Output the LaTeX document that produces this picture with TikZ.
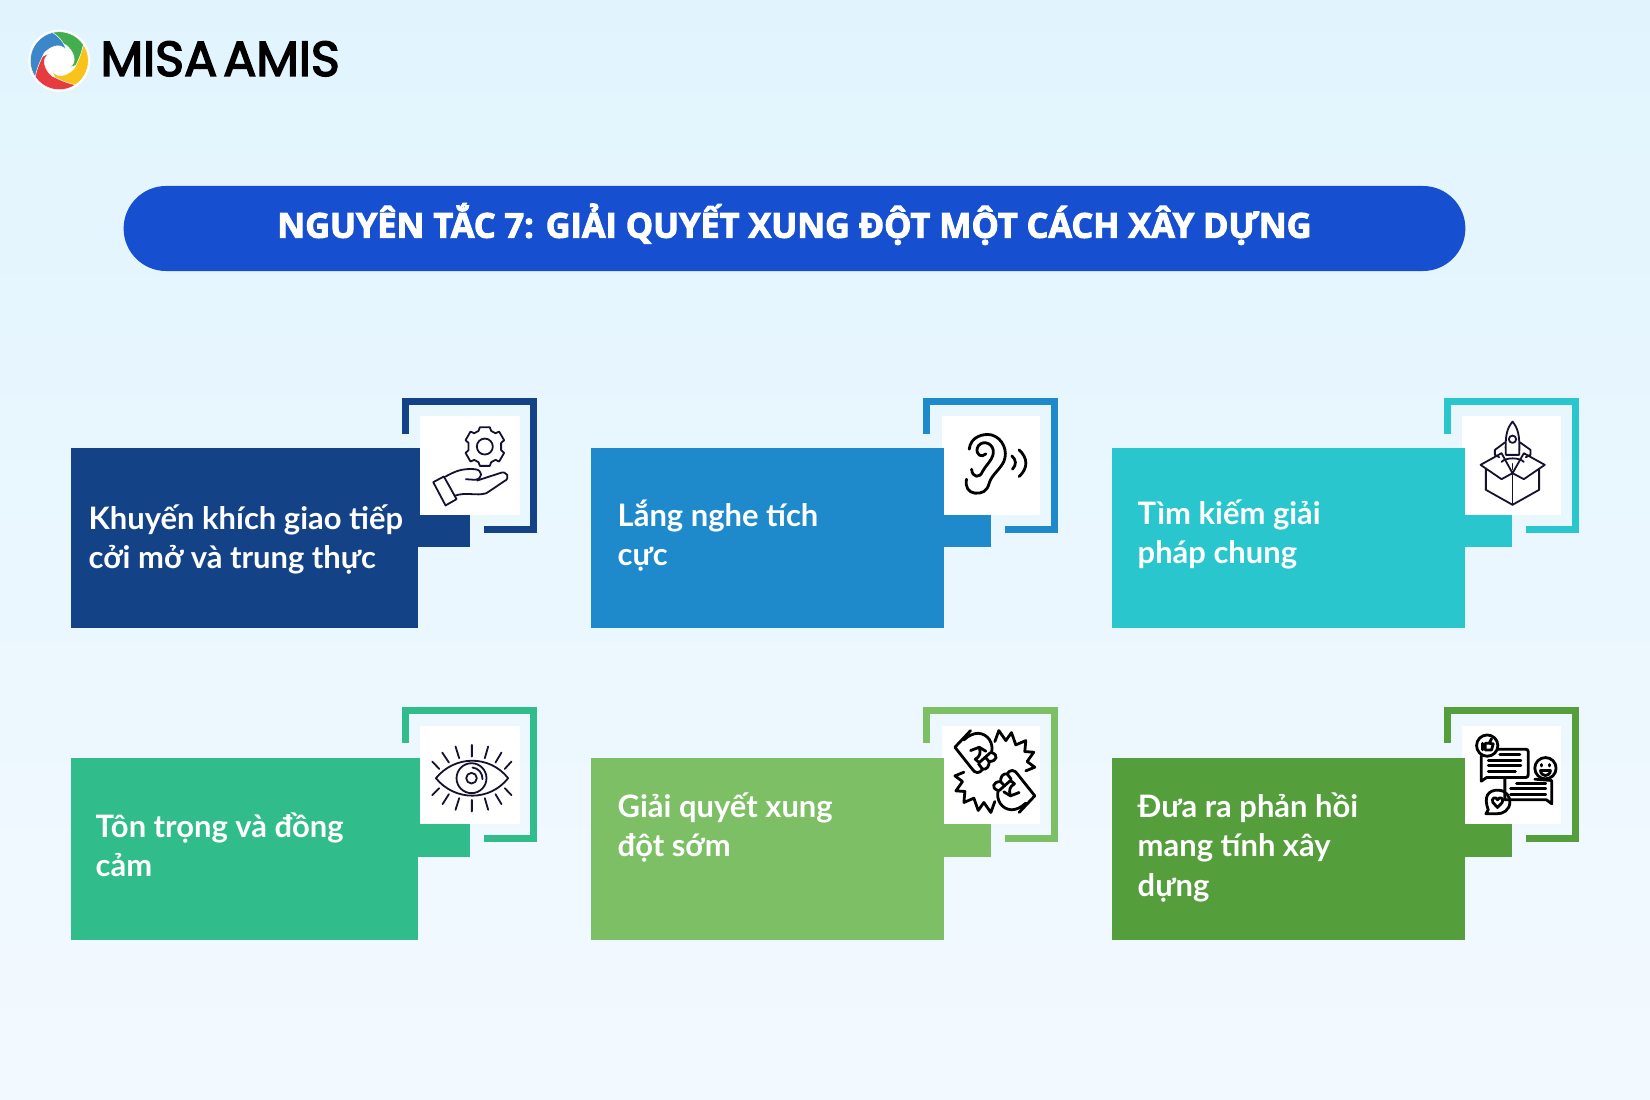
\documentclass[tikz,border=0pt]{standalone}
\usepackage{fontspec}
\newfontfamily\titlefont{Open Sans}
\newfontfamily\cardfont{Lato}
\newfontfamily\logofont[FakeBold=3]{Poppins}

\definecolor{bgtop}{HTML}{E1F4FD}
\definecolor{bgmid}{HTML}{E9F9FF}
\definecolor{bgbottom}{HTML}{F3FAFF}
\definecolor{pillblue}{HTML}{1650D0}
\definecolor{cardnavy}{HTML}{134287}
\definecolor{cardblue}{HTML}{1F8ACB}
\definecolor{cardcyan}{HTML}{2AC6CE}
\definecolor{cardmint}{HTML}{30BC8B}
\definecolor{cardlime}{HTML}{7CBF64}
\definecolor{cardgreen}{HTML}{549E3B}
\definecolor{iconink}{HTML}{14122E}
\definecolor{logogreen}{HTML}{43AE4F}
\definecolor{logoblue}{HTML}{3C87C9}
\definecolor{logoyellow}{HTML}{F9C31A}
\definecolor{logored}{HTML}{E63B3F}

\tikzset{
  block/.style={inner sep=0pt, outer sep=0pt},
  whitebox/.style={block, fill=white},
  frameline/.style={line width=0.073cm},
  cardtext/.style={anchor=north west, inner sep=0pt, align=left, text=white,
    font=\cardfont\bfseries\fontsize{8.8}{11.24}\selectfont, execute at begin node=\strut},
  iconline/.style={line width=0.018cm, draw=iconink, line cap=round, line join=round},
  blackline/.style={line width=0.028cm, draw=black, line cap=round, line join=round}
}

\newcommand{\logoblade}[2]{
  \fill [#2, draw=white, line width=0.005cm, rotate=#1] (236:29) .. controls (270.8:35.3) and (311.2:35.3) .. (346:29)
    .. controls (2:24) and (20:17) .. (35:12) .. controls (5:20) and (320:17) .. (295:17)
    .. controls (275:18) and (255:23) .. (236:29) -- cycle;
}

\newcommand{\fisthalf}{
  \draw [blackline] (285,155) -- (297,122) -- (318,152) -- (335,128) -- (348,165) -- (378,152) -- (375,185) -- (402,187) -- (382,215) -- (405,232) -- (378,243);
  \draw [blackline] (212,122) -- (165,172) -- (215,235) .. controls (225,252) and (240,252) .. (248,238) .. controls (262,240) and (268,228) .. (268,215)
    .. controls (290,215) and (298,195) .. (275,188) .. controls (282,160) and (265,132) .. (235,130) .. controls (220,130) and (205,138) .. (192,150);
  \draw [blackline] (212,182) -- (238,172) -- (258,184);
  \draw [blackline] (238,172) .. controls (244,190) and (240,200) .. (226,208) -- (238,218) -- (272,188);
  \draw [blackline] (248,238) -- (236,222);
  \draw [blackline] (268,215) -- (256,202);
}

\begin{document}
\begin{tikzpicture}[x=0.01cm, y=-0.01cm]

     \useasboundingbox (0,0) rectangle (1650,1100);
     \shade [top color=bgtop, middle color=bgmid, bottom color=bgbottom] (0,0) rectangle (1650,1100);

     \fill [white] (59.3,60.7) circle [radius=31];
     \begin{scope}[shift={(59.3,60.7)}]
          \logoblade{0}{logogreen}
          \logoblade{-90}{logoyellow}
          \logoblade{-180}{logored}
          \logoblade{-270}{logoblue}
     \end{scope}
     \node (logotext) at (100,76) [anchor=base west, inner sep=0pt, font=\logofont\fontsize{14}{16}\selectfont] {MISA\hspace{0.06cm}AMIS};

     \node (title) at (794.5,228.5) [block, fill=pillblue, rounded corners=0.425cm, minimum width=13.41cm, minimum height=0.85cm, text=white, text height=0.30cm, text depth=0.116cm, font=\titlefont\fontsize{9.75}{11}\selectfont\bfseries\addfontfeature{FakeBold=3}] {NGUYÊN TẮC 7: GIẢI QUYẾT XUNG ĐỘT MỘT CÁCH XÂY DỰNG};

     \node (tabA) at (433,497.5) [block, fill=cardnavy, minimum width=0.74cm, minimum height=0.99cm] {};
     \node (tabB) at (960.5,497.5) [block, fill=cardblue, minimum width=0.61cm, minimum height=0.99cm] {};
     \node (tabC) at (1481,497.5) [block, fill=cardcyan, minimum width=0.62cm, minimum height=0.99cm] {};
     \node (tabD) at (433,807.5) [block, fill=cardmint, minimum width=0.74cm, minimum height=0.99cm] {};
     \node (tabE) at (960.5,807.5) [block, fill=cardlime, minimum width=0.61cm, minimum height=0.99cm] {};
     \node (tabF) at (1481,807.5) [block, fill=cardgreen, minimum width=0.62cm, minimum height=0.99cm] {};

     \node (iconA) at (470,465.5) [whitebox, minimum width=1.00cm, minimum height=0.99cm] {};
     \node (iconB) at (991,465.5) [whitebox, minimum width=0.98cm, minimum height=0.99cm] {};
     \node (iconC) at (1511.5,465.5) [whitebox, minimum width=0.99cm, minimum height=0.99cm] {};
     \node (iconD) at (470,775) [whitebox, minimum width=1.00cm, minimum height=0.98cm] {};
     \node (iconE) at (991,775) [whitebox, minimum width=0.98cm, minimum height=0.98cm] {};
     \node (iconF) at (1511.5,775) [whitebox, minimum width=0.99cm, minimum height=0.98cm] {};

     \node (cardA) at (244.5,538) [block, fill=cardnavy, minimum width=3.47cm, minimum height=1.80cm] {};
     \node (cardB) at (767.5,538) [block, fill=cardblue, minimum width=3.53cm, minimum height=1.80cm] {};
     \node (cardC) at (1288.5,538) [block, fill=cardcyan, minimum width=3.53cm, minimum height=1.80cm] {};
     \node (cardD) at (244.5,849) [block, fill=cardmint, minimum width=3.47cm, minimum height=1.82cm] {};
     \node (cardE) at (767.5,849) [block, fill=cardlime, minimum width=3.53cm, minimum height=1.82cm] {};
     \node (cardF) at (1288.5,849) [block, fill=cardgreen, minimum width=3.53cm, minimum height=1.82cm] {};

     \draw [frameline, cardnavy] (405.6,434) -- (405.6,401.6) -- (533.4,401.6) -- (533.4,529.4) -- (484,529.4);
     \draw [frameline, cardblue] (926.6,434) -- (926.6,401.6) -- (1054.4,401.6) -- (1054.4,529.4) -- (1005,529.4);
     \draw [frameline, cardcyan] (1447.6,434) -- (1447.6,401.6) -- (1575.4,401.6) -- (1575.4,529.4) -- (1526,529.4);
     \draw [frameline, cardmint] (405.6,743) -- (405.6,710.6) -- (533.4,710.6) -- (533.4,838.4) -- (484,838.4);
     \draw [frameline, cardlime] (926.6,743) -- (926.6,710.6) -- (1054.4,710.6) -- (1054.4,838.4) -- (1005,838.4);
     \draw [frameline, cardgreen] (1447.6,743) -- (1447.6,710.6) -- (1575.4,710.6) -- (1575.4,838.4) -- (1526,838.4);

     \node (textA) at (88,504) [cardtext] {Khuyến khích giao tiếp\\cởi mở và trung thực};
     \node (textB) at (617,499) [cardtext] {Lắng nghe tích\\cực};
     \node (textC) at (1137,499) [cardtext] {Tìm kiếm giải\\pháp chung};
     \node (textD) at (95,812) [cardtext] {Tôn trọng và đồng\\cảm};
     \node (textE) at (617,792) [cardtext] {Giải quyết xung\\đột sớm};
     \node (textF) at (1137,792) [cardtext] {Đưa ra phản hồi\\mang tính xây\\dựng};

     \begin{scope}[shift={(380,380)}, x=0.00333cm, y=-0.00333cm]
          \draw [iconline] (315,200) circle [radius=24];
          \draw [iconline] (283,160) -- (296,153) -- (300,142) -- (330,142) -- (334,153) -- (347,160) -- (358,155) -- (373,181) -- (364,189) -- (364,211) -- (373,219) -- (358,245) -- (347,240) -- (334,247) -- (330,258) -- (300,258) -- (296,247) -- (283,240) -- (272,245) -- (257,219) -- (266,211) -- (266,189) -- (257,181) -- (272,155) -- cycle;
          \draw [iconline] (160,307) -- (192,290) -- (230,358) -- (197,377) -- cycle;
          \draw [iconline] (197,290) .. controls (225,275) and (245,265) .. (285,268) .. controls (310,270) and (310,298) .. (285,300) -- (258,298);
          \draw [iconline] (292,302) -- (360,280) .. controls (380,270) and (395,295) .. (372,305) -- (320,340) .. controls (290,350) and (260,335) .. (224,348);
     \end{scope}

     \begin{scope}[shift={(900,380)}, x=0.00333cm, y=-0.00333cm]
          \draw [blackline] (208,208) .. controls (212,170) and (250,160) .. (275,165) .. controls (310,175) and (325,215) .. (312,245) .. controls (300,270) and (275,285) .. (268,310) .. controls (262,335) and (245,342) .. (225,340) .. controls (205,338) and (195,320) .. (200,298);
          \draw [blackline] (215,268) .. controls (218,295) and (240,295) .. (248,275) .. controls (258,255) and (285,235) .. (280,210) .. controls (275,185) and (240,180) .. (232,205) .. controls (228,225) and (245,235) .. (258,222);
          \draw [blackline] (336,228) .. controls (350,240) and (350,255) .. (338,268);
          \draw [blackline] (358,210) .. controls (385,235) and (385,265) .. (358,290);
     \end{scope}

     \begin{scope}[shift={(1420,380)}, x=0.00333cm, y=-0.00333cm]
          \draw [iconline] (278,125) .. controls (262,145) and (255,165) .. (258,225) -- (298,225) .. controls (301,165) and (294,145) .. (278,125) -- cycle;
          \draw [iconline] (278,178) circle [radius=11];
          \draw [iconline] (256,187) -- (225,210) -- (225,225) -- (238,232);
          \draw [iconline] (300,187) -- (332,210) -- (332,225) -- (318,232);
          \draw [iconline] (245,246) .. controls (258,232) and (298,232) .. (312,246);
          \draw [iconline] (278,252) -- (278,268);
          \draw [iconline] (182,255) -- (245,220) -- (278,280) -- (312,220) -- (375,255) -- (312,298) -- (278,280) -- (245,298) -- cycle;
          \draw [iconline] (198,268) -- (198,330) -- (278,375) -- (358,330) -- (358,268);
          \draw [iconline] (278,280) -- (278,375);
     \end{scope}

     \begin{scope}[shift={(380,690)}, x=0.00333cm, y=-0.00333cm]
          \draw [iconline] (168,265) .. controls (225,195) and (330,195) .. (385,265) .. controls (330,335) and (225,335) .. (168,265) -- cycle;
          \draw [iconline] (275,265) circle [radius=45];
          \draw [iconline] (275,265) circle [radius=16];
          \draw [iconline] (278,233) .. controls (295,235) and (308,248) .. (308,268);
          \draw [iconline] (157,215) -- (178,237) (187,188) -- (207,218) (227,170) -- (238,205) (276,165) -- (276,200) (325,170) -- (315,205) (365,188) -- (347,218) (395,215) -- (375,237);
          \draw [iconline] (157,316) -- (178,295) (188,343) -- (207,313) (227,360) -- (238,325) (276,365) -- (276,330) (325,360) -- (315,325) (365,343) -- (347,313) (395,316) -- (375,295);
     \end{scope}

     \begin{scope}[shift={(900,690)}, x=0.00333cm, y=-0.00333cm]
          \fisthalf
          \begin{scope}[rotate around={180:(285,245)}]
               \fisthalf
          \end{scope}
     \end{scope}

     \begin{scope}[shift={(1420,690)}, x=0.00333cm, y=-0.00333cm]
          \draw [blackline] (235,178) -- (318,178) .. controls (323,178) and (325,181) .. (325,185) -- (325,255) .. controls (325,260) and (322,263) .. (318,263) -- (200,263) -- (184,274) -- (184,198);
          \draw [blackline] (205,212) -- (303,212) (205,228) -- (303,228) (205,245) -- (287,245) (240,195) -- (300,195);
          \draw [blackline] (202,167) circle [radius=32];
          \draw [blackline] (188,160) -- (188,180) (196,160) -- (196,180) -- (215,180) -- (220,162) -- (208,160) -- (215,146) (196,160) -- (208,160);
          \draw [blackline] (255,263) -- (255,330) -- (380,330) -- (396,342) -- (396,272) -- (345,268);
          \draw [blackline] (290,280) -- (378,280) (272,297) -- (378,297) (272,313) -- (378,313);
          \draw [blackline] (377,235) circle [radius=32];
          \draw [blackline] (365,224) -- (365,228) (390,224) -- (390,228);
          \draw [blackline] (362,242) -- (392,242) .. controls (390,262) and (364,262) .. (362,242) -- cycle;
          \draw [blackline] (205,360) .. controls (190,320) and (205,300) .. (235,301) .. controls (260,302) and (270,320) .. (270,337) .. controls (270,360) and (250,373) .. (230,372) -- (198,372) -- cycle;
          \draw [blackline] (233,353) -- (219,338) .. controls (212,325) and (228,318) .. (233,330) .. controls (238,318) and (254,325) .. (247,338) -- cycle;
     \end{scope}

\end{tikzpicture}
\end{document}
